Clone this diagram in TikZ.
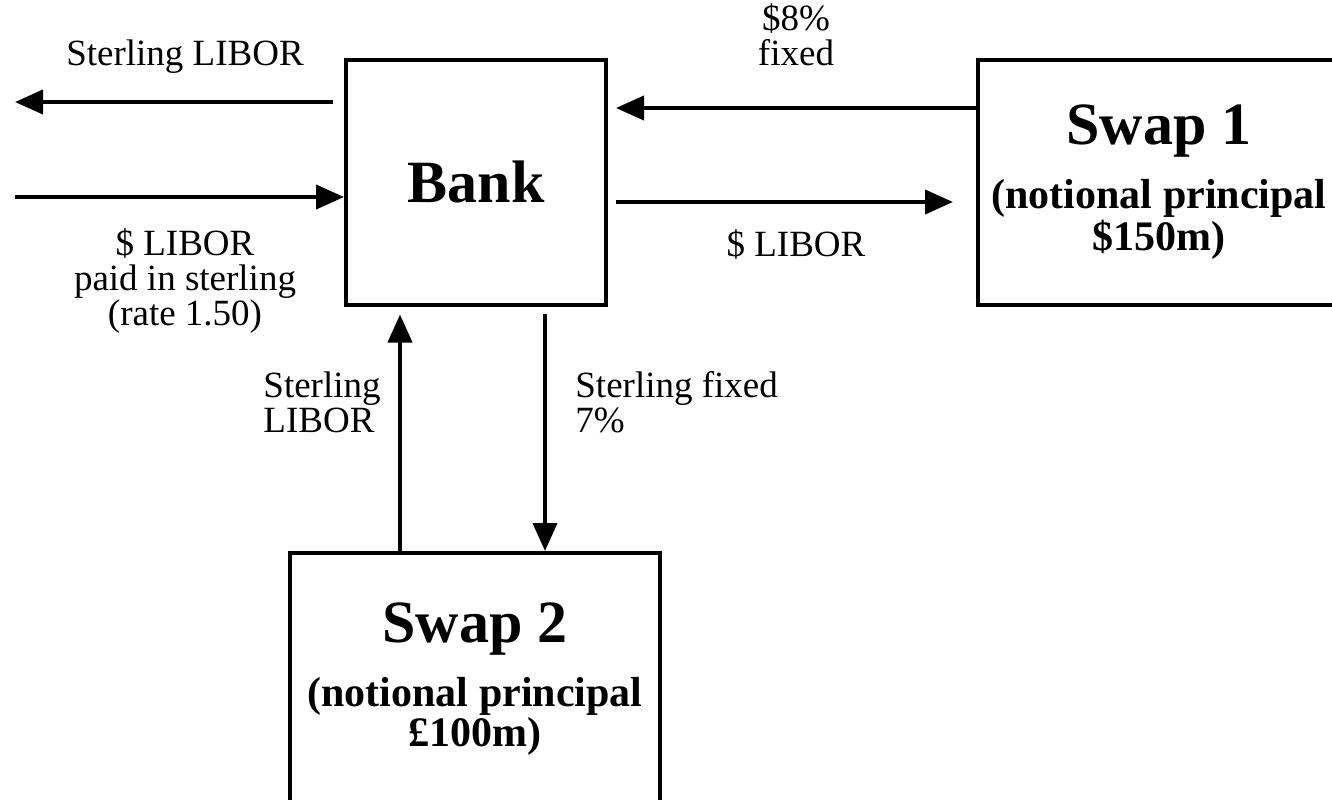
\documentclass[tikz,border=0pt]{standalone}
\usepackage{fontspec}
\setmainfont{Liberation Serif}
\usetikzlibrary{arrows.meta}
\tikzset{
  box/.style={draw, line width=2pt, inner sep=0pt, align=center},
  flow/.style={line width=2pt, -{Triangle[length=14pt,width=12pt]}},
  lbl/.style={font=\fontsize{18.5}{17.5}\selectfont, inner sep=0pt},
  sub/.style={font=\fontsize{21}{17}\selectfont\bfseries},
}
\newcommand{\boxtitle}{\fontsize{30}{30}\selectfont\bfseries}
\begin{document}
\begin{tikzpicture}[x=0.5pt,y=-0.5pt]
   \useasboundingbox (0,0) rectangle (1332,799);
   % Boxes
   \node[box, minimum width=130pt, minimum height=122.5pt] (bank) at (476,182) {\boxtitle Bank};
   \node[box, sub, minimum width=181pt, minimum height=122.5pt] (swapone) at (1159,182)
      {{\boxtitle Swap 1}\\[10pt] (notional principal\\ \$150m)};
   \node[box, sub, minimum width=185pt, minimum height=126pt] (swaptwo) at (475,679)
      {{\boxtitle Swap 2}\\[10pt] (notional principal\\ £100m)};
   % Free ends and levels
   \coordinate (outL) at (15,102);
   \coordinate (inL) at (15,197);
   \coordinate (fixy) at (0,108);
   \coordinate (liby) at (0,202);
   \coordinate (upx) at (400,0);
   \coordinate (dnx) at (545,0);
   % Left side
   \draw[flow, shorten <=5.5pt] (bank.west |- outL) -- (outL);
   \draw[flow] (inL) -- (bank.west |- inL);
   \node[lbl] (lsterout) at (185,57) {Sterling LIBOR};
   \node[lbl, align=center] (lusdin) at (185,281) {\$ LIBOR\\paid in sterling\\(rate 1.50)};
   % Swap 1
   \draw[flow, shorten >=4pt] (swapone.west |- fixy) -- (bank.east |- fixy);
   \draw[flow, shorten <=4pt, shorten >=11.5pt] (bank.east |- liby) -- (swapone.west |- liby);
   \node[lbl, align=center] (lfix) at (796,35) {\$8\%\\fixed};
   \node[lbl] (llibor) at (796,245) {\$ LIBOR};
   % Swap 2
   \draw[flow, shorten >=4pt] (swaptwo.north -| upx) -- (bank.south -| upx);
   \draw[flow, shorten <=3.5pt] (bank.south -| dnx) -- (swaptwo.north -| dnx);
   \node[lbl, align=left, anchor=east] (lsterup) at (381,402) {Sterling\\LIBOR};
   \node[lbl, align=left, anchor=west] (lsterdn) at (575,402) {Sterling fixed\\7\%};
\end{tikzpicture}
\end{document}
